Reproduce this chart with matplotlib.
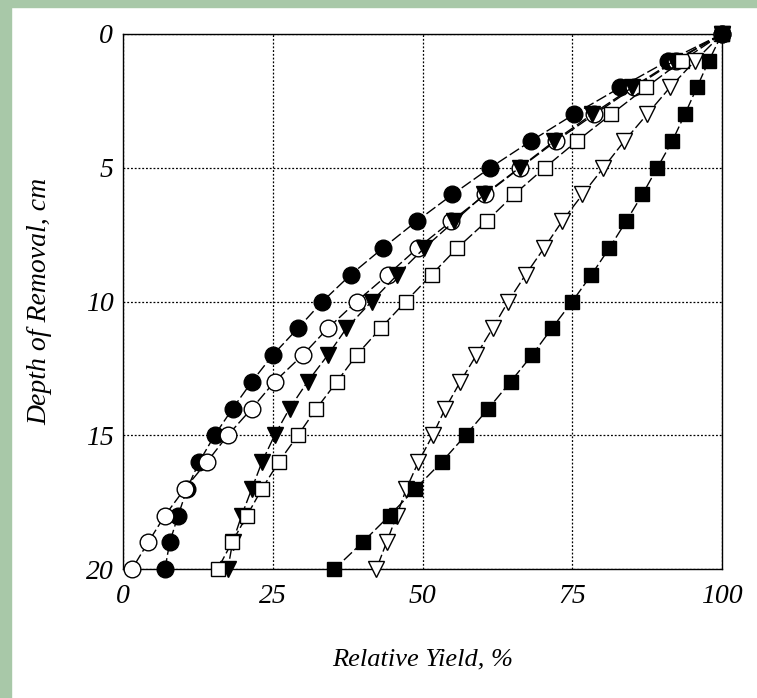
import matplotlib.pyplot as plt
from matplotlib.patches import Rectangle

# depth of removal, cm (0 at top)
depth = list(range(0, 21))

# relative yield, % for each series
filled_circle = [100, 91, 83, 75.3, 68.1, 61.3, 55, 49, 43.4, 38, 33.3, 29.2, 25, 21.5, 18.3, 15.3, 12.7, 10.7, 9.2, 7.8, 7]
open_circle = [100, 92.3, 85.3, 78.7, 72.3, 66.3, 60.5, 54.8, 49.2, 44.2, 39, 34.2, 30, 25.3, 21.5, 17.5, 14, 10.3, 7, 4.2, 1.5]
filled_tri = [100, 92, 85, 78.3, 72, 66.2, 60.3, 55.3, 50.3, 45.8, 41.5, 37.3, 34.2, 30.8, 27.8, 25.3, 23.2, 21.5, 19.8, 18.3, 17.5]
open_square = [100, 93.3, 87.3, 81.5, 75.8, 70.4, 65.3, 60.7, 55.8, 51.5, 47.2, 43, 39, 35.7, 32.3, 29.2, 26, 23.2, 20.7, 18.2, 15.8]
open_tri = [100, 95.5, 91.3, 87.5, 83.7, 80.2, 76.7, 73.3, 70.3, 67.2, 64.3, 61.7, 59, 56.3, 53.8, 51.7, 49.3, 47.3, 45.7, 44, 42.3]
filled_square = [100, 97.8, 95.8, 93.8, 91.7, 89.2, 86.7, 84, 81.2, 78.2, 75, 71.6, 68.3, 64.7, 61, 57.2, 53.2, 48.8, 44.5, 40, 35.3]

xticks = [0, 25, 50, 75, 100]
yticks = [0, 5, 10, 15, 20]

plt.rcParams['font.family'] = ['Liberation Serif', 'DejaVu Serif']

fig = plt.figure(figsize=(7.57, 6.98), dpi=100)
fig.patch.set_facecolor('white')
# green scan border (left and top)
green = '#a8c8a8'
fig.patches.append(Rectangle((0, 0), 11 / 757, 1, transform=fig.transFigure, color=green, zorder=0))
fig.patches.append(Rectangle((0, 1 - 7 / 698), 1, 7 / 698, transform=fig.transFigure, color=green, zorder=0))

ax = fig.add_axes([0.1625, 0.1848, 0.7913, 0.7665])

series = [
    (filled_circle, 'o', 'black', 12),
    (open_circle, 'o', 'white', 12),
    (filled_tri, 'v', 'black', 12),
    (open_square, 's', 'white', 10.5),
    (open_tri, 'v', 'white', 12),
    (filled_square, 's', 'black', 10.5),
]
for vals, m, fc, ms in series:
    ax.plot(vals, depth, color='black', lw=1.0, dashes=(8, 2.5),
            marker=m, markerfacecolor=fc, markeredgecolor='black',
            markeredgewidth=1.0, markersize=ms, clip_on=False, zorder=3)

ax.set_xlim(0, 100)
ax.set_ylim(20, 0)
ax.set_xticks(xticks)
ax.set_yticks(yticks)
ax.grid(True, color='black', linestyle=(0, (1.5, 1.5)), linewidth=0.9)
ax.tick_params(length=0, labelsize=20)
ax.tick_params(axis='x', pad=11)
ax.tick_params(axis='y', pad=7)
for lab in ax.get_xticklabels() + ax.get_yticklabels():
    lab.set_fontstyle('italic')
for s in ax.spines.values():
    s.set_linewidth(1.0)

ax.set_xlabel('Relative Yield, %', fontsize=19, style='italic', labelpad=28)
ax.set_ylabel('Depth of Removal, cm', fontsize=20, style='italic', labelpad=24)

fig.savefig('out.png', dpi=100)
